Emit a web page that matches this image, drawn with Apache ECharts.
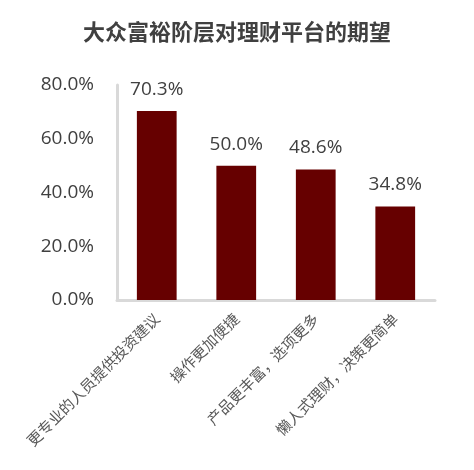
<!DOCTYPE html>
<html>
<head>
<meta charset="utf-8">
<script src="https://cdn.jsdelivr.net/npm/echarts@6/dist/echarts.min.js"></script>
<style>
    html, body {margin:0;padding:0;background:#ffffff;}
    #chart {width:474px;height:470px;}
</style>
</head>
<body>
<div id="chart"></div>
<script>
    // 数据
    var categories = ['更专业的人员提供投资建议', '操作更加便捷', '产品更丰富，选项更多', '懒人式理财，决策更简单'];
    var values = [70.3, 50.0, 48.6, 34.8];
    var yTicks = [0, 20, 40, 60, 80];

    var font = '"Noto Sans CJK SC", "Noto Sans", sans-serif';
    var numFont = '"Open Sans", "Noto Sans", sans-serif';
    var myChart = echarts.init(document.getElementById('chart'));

    var option = {
        backgroundColor: '#ffffff',
        animation: false,
        title: {
            text: '大众富裕阶层对理财平台的期望',
            left: 'center',
            top: 16,
            textStyle: {fontFamily: font, fontSize: 22, fontWeight: 'bold', color: '#404040'}
        },
        grid: {left: 117, right: 39, top: 85, bottom: 170},
        xAxis: {
            type: 'category',
            data: categories,
            axisLine: {lineStyle: {color: '#d9d9d9', width: 3}},
            axisTick: {show: false},
            axisLabel: {
                rotate: 45,
                interval: 0,
                margin: 16,
                fontFamily: font,
                fontSize: 15,
                color: '#595959'
            }
        },
        yAxis: {
            type: 'value',
            min: yTicks[0],
            max: yTicks[yTicks.length - 1],
            interval: 20,
            splitLine: {show: false},
            axisTick: {show: false},
            axisLine: {show: true, lineStyle: {color: '#d9d9d9', width: 3}},
            axisLabel: {
                margin: 23,
                fontFamily: numFont,
                fontSize: 19,
                color: '#404040',
                formatter: function (v) { return v.toFixed(1) + '%'; }
            }
        },
        series: [{
            type: 'bar',
            data: values,
            barWidth: '50%',
            itemStyle: {color: '#660000'},
            label: {
                show: true,
                position: 'top',
                distance: 12,
                fontFamily: numFont,
                fontSize: 19,
                color: '#404040',
                formatter: function (p) { return p.value.toFixed(1) + '%'; }
            }
        }]
    };
    myChart.setOption(option, true);
</script>
</body>
</html>
